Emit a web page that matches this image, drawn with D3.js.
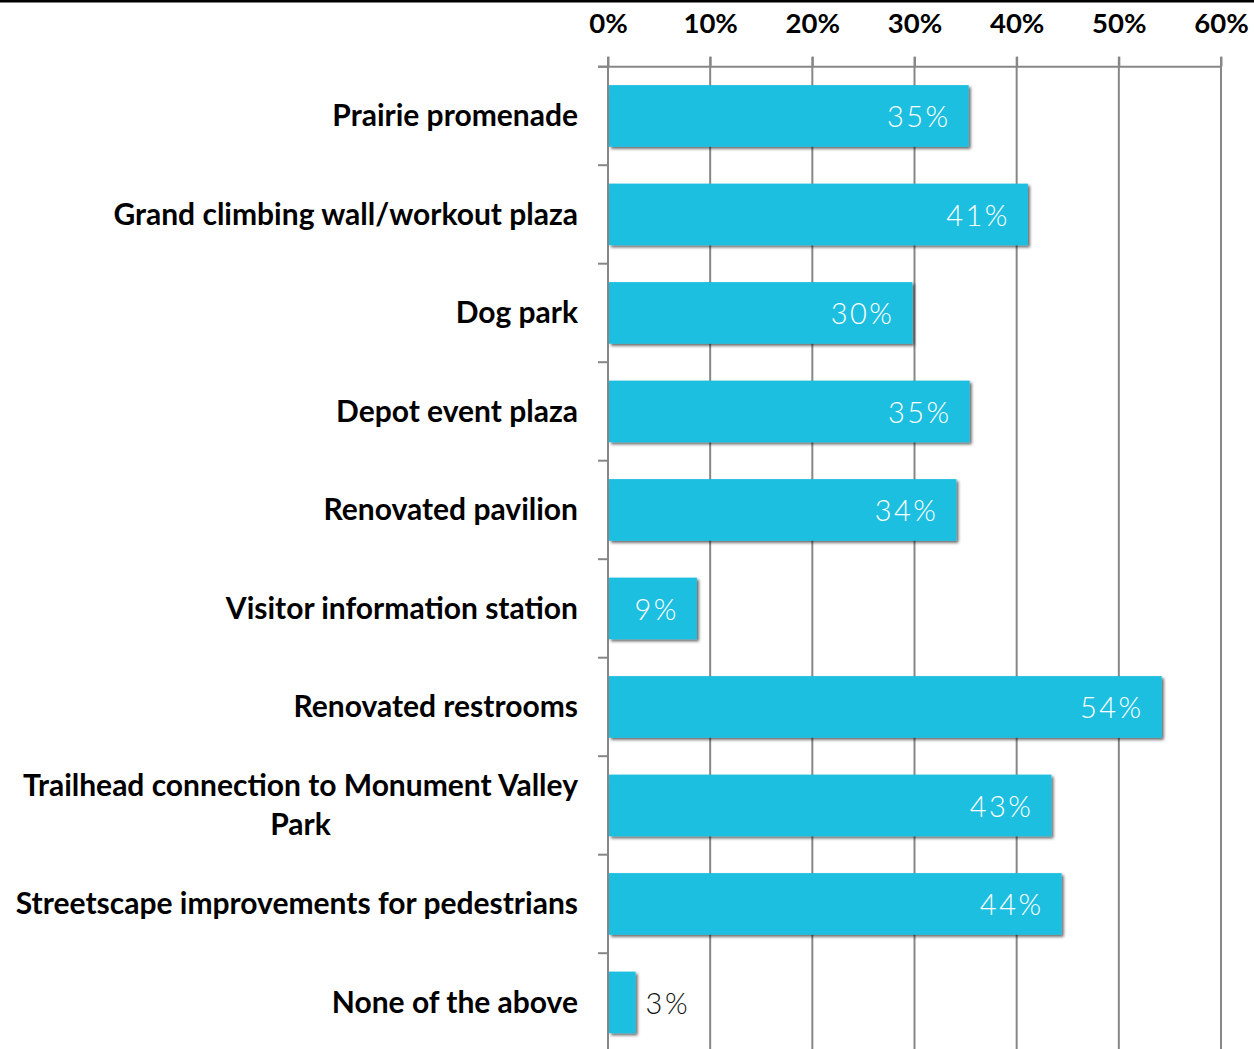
<!DOCTYPE html>
<html><head><meta charset="utf-8">
<script src="https://cdn.jsdelivr.net/npm/d3@7"></script>
<style>
html,body{margin:0;padding:0;background:#fff;}
svg{display:block;}
</style></head>
<body>
<svg id="chart" width="1254" height="1049"></svg>
<script>
const categories = [
  "Prairie promenade",
  "Grand climbing wall/workout plaza",
  "Dog park",
  "Depot event plaza",
  "Renovated pavilion",
  "Visitor information station",
  "Renovated restrooms",
  "Trailhead connection to Monument Valley Park",
  "Streetscape improvements for pedestrians",
  "None of the above"
];
const values = [35.3, 41.1, 29.8, 35.4, 34.1, 8.7, 54.2, 43.4, 44.4, 2.7];
const valueLabels = ["35%","41%","30%","35%","34%","9%","54%","43%","44%","3%"];
const tickValues = [0,10,20,30,40,50,60];
const tickLabels = ["0%","10%","20%","30%","40%","50%","60%"];

(function(){
const W = 1254, H = 1049;
const svg = d3.select("#chart");
const left = 608, right = 1221, plotTop = 66.7, bandStep = 98.5;
const x = d3.scaleLinear().domain([0,60]).range([left, right]);
const y = d3.scaleBand().domain(categories).range([plotTop, plotTop + bandStep*categories.length]).paddingInner(0.374).paddingOuter(0.187);

const defs = svg.append("defs");
const f = defs.append("filter").attr("id","shadow").attr("x","-10%").attr("y","-20%").attr("width","130%").attr("height","150%");
f.append("feDropShadow").attr("dx",2).attr("dy",2).attr("stdDeviation",1.8).attr("flood-color","#000").attr("flood-opacity",0.6);

// top border
svg.append("rect").attr("x",0).attr("y",0).attr("width",W).attr("height",2.5).attr("fill","#000");

// gridlines
svg.append("g").selectAll("line").data(tickValues).join("line")
  .attr("x1", d=>x(d)).attr("x2", d=>x(d))
  .attr("y1", plotTop-10).attr("y2", H)
  .attr("stroke","#878787").attr("stroke-width",2);

// top axis
const axis = d3.axisTop(x).tickValues(tickValues).tickFormat((d,i)=>tickLabels[i]).tickSize(10).tickSizeOuter(0).tickPadding(24);
const ag = svg.append("g").attr("transform",`translate(0,${plotTop})`).call(axis);
ag.select(".domain").attr("stroke","#878787").attr("stroke-width",2).attr("d",`M${left-10},0H${right}`);
ag.selectAll(".tick line").attr("stroke","#878787").attr("stroke-width",2);
ag.selectAll(".tick text").attr("fill","#000").style("font-family","Lato, sans-serif").style("font-weight",700).style("font-size","27.5px");

// category ticks
svg.append("g").selectAll("line").data(d3.range(categories.length+1)).join("line")
  .attr("x1", left-10).attr("x2", left)
  .attr("y1", i=>plotTop+bandStep*i).attr("y2", i=>plotTop+bandStep*i)
  .attr("stroke","#878787").attr("stroke-width",2);

// bars
svg.append("g").selectAll("rect").data(values).join("rect")
  .attr("x", x(0)+1).attr("y",(d,i)=>y(categories[i]))
  .attr("width", d=>x(d)-x(0)-1).attr("height", y.bandwidth())
  .attr("fill","#1cbfdf").attr("filter","url(#shadow)");

// value labels
svg.append("g").selectAll("text").data(values).join("text")
  .attr("x",(d,i)=> d < 6 ? x(d)+10 : x(d)-18)
  .attr("y",(d,i)=>y(categories[i])+y.bandwidth()/2+1)
  .attr("dy","0.35em")
  .attr("text-anchor",(d)=> d < 6 ? "start" : "end")
  .attr("fill",(d)=> d < 6 ? "#111" : "#fff")
  .style("font-family","Lato, sans-serif").style("font-weight",300)
  .style("font-size","29px").style("letter-spacing","2.5px")
  .text((d,i)=>valueLabels[i]);

// category labels
const labelX = 578, maxW = 572;
const lg = svg.append("g").style("font-family","Lato, sans-serif").style("font-weight",700).style("font-size","30px").attr("fill","#000");
categories.forEach((c,i)=>{
  const cy = y(c) + y.bandwidth()/2;
  const t = lg.append("text").attr("text-anchor","end").attr("x",labelX).attr("y",cy).attr("dy","0.35em").text(c);
  if (t.node().getComputedTextLength() > maxW) {
    const words = c.split(" ");
    const lines = []; let cur = [];
    t.text("");
    const probe = lg.append("text");
    words.forEach(w=>{
      const trial = cur.concat([w]).join(" ");
      probe.text(trial);
      if (probe.node().getComputedTextLength() > maxW && cur.length) { lines.push(cur.join(" ")); cur=[w]; }
      else cur.push(w);
    });
    lines.push(cur.join(" "));
    let widest = 0;
    lines.forEach(l=>{ probe.text(l); widest = Math.max(widest, probe.node().getComputedTextLength()); });
    probe.remove();
    const lh = 39;
    t.attr("text-anchor","middle").attr("x", labelX - widest/2);
    lines.forEach((l,k)=>{
      t.append("tspan").attr("x", labelX - widest/2).attr("y", cy + (k - (lines.length-1)/2)*lh).attr("dy","0.35em").text(l);
    });
  }
});
})();
</script>
</body></html>
